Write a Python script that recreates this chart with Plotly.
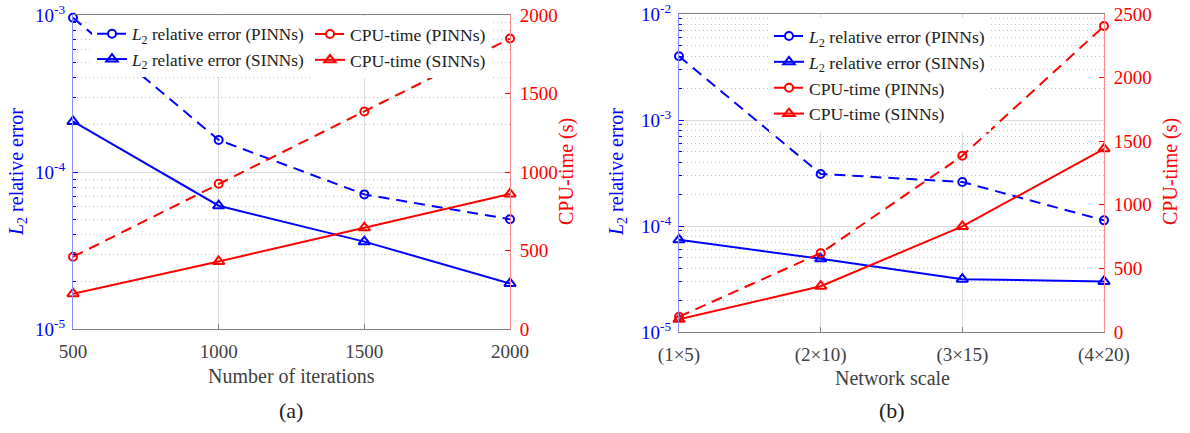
import math
import plotly.graph_objects as go

# ---- data -------------------------------------------------------------
iterations = [500, 1000, 1500, 2000]
l2_pinns_a = [9.6e-4, 1.6e-4, 7.2e-5, 5.0e-5]
l2_sinns_a = [2.1e-4, 6.1e-5, 3.6e-5, 1.95e-5]
cpu_pinns_a = [460, 925, 1385, 1850]
cpu_sinns_a = [225, 430, 645, 860]

net_scales = ["(1×5)", "(2×10)", "(3×15)", "(4×20)"]
l2_pinns_b = [4.0e-3, 3.1e-4, 2.6e-4, 1.13e-4]
l2_sinns_b = [7.4e-5, 4.9e-5, 3.15e-5, 3.0e-5]
cpu_pinns_b = [120, 620, 1385, 2405]
cpu_sinns_b = [100, 360, 830, 1440]

left_ticks_a = [1e-5, 1e-4, 1e-3]
left_ticks_b = [1e-5, 1e-4, 1e-3, 1e-2]
right_ticks_a = [0, 500, 1000, 1500, 2000]
right_ticks_b = [0, 500, 1000, 1500, 2000, 2500]

# ---- style ------------------------------------------------------------
W, H = 1190, 433
FONT = "Liberation Serif"
BLUE = "rgb(0,0,255)"
RED = "rgb(255,0,0)"
GRAY_TXT = "#404040"
DASH = "11px,7px"
EPS = 1e-4  # keeps the end-of-range decade ticks inside the log range


def px_x(p):
    return p / W


def px_y(p):
    return 1 - p / H


def pow_label(v):
    e = int(round(math.log10(v)))
    return f"10<sup>{e}</sup>"


def minor_vals(lo_exp, hi_exp):
    out = []
    for e in range(lo_exp, hi_exp):
        for m in range(2, 10):
            out.append(m * 10 ** e)
    return out


L2_P = "<i>L</i><sub>2</sub> relative error (PINNs)"
L2_S = "<i>L</i><sub>2</sub> relative error (SINNs)"
CPU_P = "CPU-time (PINNs)"
CPU_S = "CPU-time (SINNs)"

circ = dict(symbol="circle-open", size=8, line=dict(width=2))
tri = dict(symbol="triangle-up-open", size=10, line=dict(width=2))

fig = go.Figure()

# ---- panel (a) --------------------------------------------------------
fig.add_trace(go.Scatter(x=iterations, y=l2_pinns_a, name=L2_P, mode="lines+markers",
                         line=dict(color=BLUE, width=2, dash=DASH), marker=dict(color=BLUE, **circ),
                         xaxis="x", yaxis="y", legend="legend", cliponaxis=False))
fig.add_trace(go.Scatter(x=iterations, y=l2_sinns_a, name=L2_S, mode="lines+markers",
                         line=dict(color=BLUE, width=2), marker=dict(color=BLUE, **tri),
                         xaxis="x", yaxis="y", legend="legend", cliponaxis=False))
fig.add_trace(go.Scatter(x=iterations, y=cpu_pinns_a, name=CPU_P, mode="lines+markers",
                         line=dict(color=RED, width=2, dash=DASH), marker=dict(color=RED, **circ),
                         xaxis="x", yaxis="y2", legend="legend2", cliponaxis=False))
fig.add_trace(go.Scatter(x=iterations, y=cpu_sinns_a, name=CPU_S, mode="lines+markers",
                         line=dict(color=RED, width=2), marker=dict(color=RED, **tri),
                         xaxis="x", yaxis="y2", legend="legend2", cliponaxis=False))

# ---- panel (b) --------------------------------------------------------
fig.add_trace(go.Scatter(x=net_scales, y=l2_pinns_b, name=L2_P, mode="lines+markers",
                         line=dict(color=BLUE, width=2, dash=DASH), marker=dict(color=BLUE, **circ),
                         xaxis="x2", yaxis="y3", legend="legend3", cliponaxis=False))
fig.add_trace(go.Scatter(x=net_scales, y=l2_sinns_b, name=L2_S, mode="lines+markers",
                         line=dict(color=BLUE, width=2), marker=dict(color=BLUE, **tri),
                         xaxis="x2", yaxis="y3", legend="legend3", cliponaxis=False))
fig.add_trace(go.Scatter(x=net_scales, y=cpu_pinns_b, name=CPU_P, mode="lines+markers",
                         line=dict(color=RED, width=2, dash=DASH), marker=dict(color=RED, **circ),
                         xaxis="x2", yaxis="y4", legend="legend3", cliponaxis=False))
fig.add_trace(go.Scatter(x=net_scales, y=cpu_sinns_b, name=CPU_S, mode="lines+markers",
                         line=dict(color=RED, width=2), marker=dict(color=RED, **tri),
                         xaxis="x2", yaxis="y4", legend="legend3", cliponaxis=False))

tickfont = dict(family=FONT, size=19)
GRID = "#dcdcdc"
MINOR_GRID = "rgb(185,185,245)"
MINOR_DASH = "1px,3px"

xa_common = dict(showline=True, linecolor="#808080", linewidth=1, mirror=True,
                 ticks="inside", ticklen=5, tickcolor="#808080",
                 showgrid=True, gridcolor=GRID, gridwidth=1, zeroline=False,
                 automargin=False, ticklabelstandoff=5, ticklabeloverflow="allow",
                 tickfont=dict(color=GRAY_TXT, **tickfont))

left_common = dict(type="log", showline=True, linecolor="#8c8cff", linewidth=1,
                   ticks="inside", ticklen=5, tickcolor=BLUE, showgrid=True,
                   gridcolor=GRID, zeroline=False, automargin=False,
                   ticklabeloverflow="allow",
                   tickfont=dict(color=BLUE, **tickfont), ticklabelstandoff=3)

right_common = dict(side="right", showline=True, linecolor="#ff8c8c", linewidth=1,
                    ticks="inside", ticklen=5, tickcolor=RED, showgrid=False, zeroline=False,
                    automargin=False, ticklabelstandoff=5, ticklabeloverflow="allow",
                    tickfont=dict(color=RED, **tickfont))

legend_font = dict(family=FONT, size=17.6, color="#202020")

fig.update_layout(
    template="none",
    width=W, height=H, margin=dict(l=0, r=0, t=0, b=0, autoexpand=False),
    paper_bgcolor="white", plot_bgcolor="white",
    font=dict(family=FONT, color=GRAY_TXT),
    xaxis=dict(domain=[px_x(73), px_x(510)], range=[500, 2000], anchor="y",
               tickvals=iterations, **xa_common),
    yaxis=dict(domain=[px_y(329), px_y(15)], range=[-5 - EPS, -3 + EPS], anchor="x",
               tickvals=left_ticks_a, ticktext=[pow_label(v) for v in left_ticks_a],
               minor=dict(tickvals=minor_vals(-5, -3), showgrid=True, griddash=MINOR_DASH,
                          gridcolor=MINOR_GRID, ticks="inside", ticklen=3, tickcolor=BLUE),
               **left_common),
    yaxis2=dict(overlaying="y", anchor="x", range=[0, 2000], tickvals=right_ticks_a,
                **right_common),
    xaxis2=dict(domain=[px_x(679), px_x(1104)], range=[0, 3], anchor="y3", type="category",
                **xa_common),
    yaxis3=dict(domain=[px_y(332), px_y(14)], range=[-5 - EPS, -2 + EPS], anchor="x2",
                tickvals=left_ticks_b, ticktext=[pow_label(v) for v in left_ticks_b],
                minor=dict(tickvals=minor_vals(-5, -2), showgrid=True, griddash=MINOR_DASH,
                           gridcolor=MINOR_GRID, ticks="inside", ticklen=3, tickcolor=BLUE),
                **left_common),
    yaxis4=dict(overlaying="y3", anchor="x2", range=[0, 2500], tickvals=right_ticks_b,
                **right_common),
    legend=dict(x=px_x(92), y=px_y(16), xanchor="left", yanchor="top", bgcolor="white",
                font=dict(family=FONT, size=17.2, color="#202020"), itemwidth=30,
                tracegroupgap=0, borderwidth=0),
    legend2=dict(x=px_x(310), y=px_y(16), xanchor="left", yanchor="top", bgcolor="white",
                 font=legend_font, itemwidth=30, tracegroupgap=0, borderwidth=0),
    legend3=dict(x=px_x(769), y=px_y(18), xanchor="left", yanchor="top", bgcolor="white",
                 font=legend_font, itemwidth=30, tracegroupgap=0, borderwidth=0),
    showlegend=True,
)

ann = [
    dict(text="Number of iterations", x=px_x(291), y=px_y(376), size=20, color=GRAY_TXT, angle=0),
    dict(text="(a)", x=px_x(291), y=px_y(410), size=22, color="#202020", angle=0),
    dict(text="Network scale", x=px_x(892), y=px_y(378), size=20, color=GRAY_TXT, angle=0),
    dict(text="(b)", x=px_x(892), y=px_y(410), size=22, color="#202020", angle=0),
    dict(text="<i>L</i><sub>2</sub> relative error", x=px_x(18), y=px_y(172), size=20, color=BLUE, angle=-90),
    dict(text="CPU-time (s)", x=px_x(567), y=px_y(172), size=20, color=RED, angle=-90),
    dict(text="<i>L</i><sub>2</sub> relative error", x=px_x(618), y=px_y(172), size=20, color=BLUE, angle=-90),
    dict(text="CPU-time (s)", x=px_x(1171), y=px_y(172), size=20, color=RED, angle=-90),
]
for a in ann:
    fig.add_annotation(text=a["text"], x=a["x"], y=a["y"], xref="paper", yref="paper",
                       xanchor="center", yanchor="middle", showarrow=False, textangle=a["angle"],
                       font=dict(family=FONT, size=a["size"], color=a["color"]))

fig.write_html("out.html")
